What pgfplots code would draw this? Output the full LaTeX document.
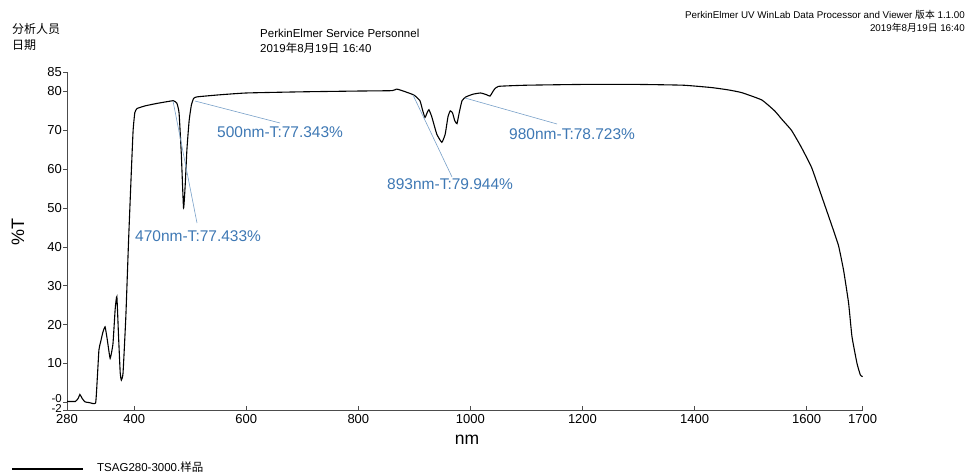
\documentclass[border=0pt]{standalone}
\usepackage{fontspec}
\setmainfont{Liberation Sans}
\newfontfamily\cjk{Noto Sans CJK SC}
\usepackage{pgfplots}
\pgfplotsset{compat=1.18}
\definecolor{annblue}{RGB}{62,120,180}
\definecolor{leadc}{RGB}{120,160,200}
\begin{document}
\begin{tikzpicture}
\useasboundingbox (0,0) rectangle (968pt,475pt);
\begin{axis}[
  at={(67pt,65pt)}, anchor=south west,
  width=795.6pt, height=338pt, scale only axis,
  xmin=280, xmax=1700, ymin=-2, ymax=85,
  axis lines=left, axis line style={-, draw=black!70, line width=0.6pt},
  xtick={280,400,600,800,1000,1200,1400,1600,1700},
  xticklabels={280,400,600,800,1000,1200,1400,1600,1700},
  ytick={-2,0,10,20,30,40,50,60,70,80,85},
  yticklabels={{\fontsize{11.5}{12}\selectfont\raisebox{-2.2pt}[0pt][0pt]{-2}},{\fontsize{11.5}{12}\selectfont\raisebox{0.2pt}[0pt][0pt]{-0}},10,20,30,40,50,60,70,80,85},
  xtick align=inside, ytick align=outside,
  major tick length=4pt,
  tick style={draw=black!70, line width=0.6pt},
  tick label style={font=\fontsize{13}{14}\selectfont},
  yticklabel style={inner sep=1pt},
  xticklabel style={yshift=-1pt},
  /pgf/number format/assume math mode=true,
  clip=false,
]
\addplot[black, line width=1.1pt, smooth, tension=0.25] coordinates {
(280,0.2) (295,0.2) (300,1.0) (303,2.0) (307,1.0) (312,0.1) (320,-0.1) (331,-0.2)
(334,6) (337,13.5) (340,15.5) (344,18) (348,19.4) (352,16) (357,11.3) (362,15)
(366,24) (369,27.2) (372,17) (375,7.5) (377,5.7) (380,7.5) (385,22) (390,42)
(395,60) (398,70) (401,74.5) (405,75.6) (420,76.3) (440,76.9) (460,77.4) (470,77.6)
(476,77.0) (480,74.5) (484,64) (488,50) (491,56) (494,65) (498,72.5) (502,76.5)
(506,78.2) (512,78.6) (550,79.1) (600,79.6) (700,79.9) (800,80.1) (860,80.2)
(868,80.6) (874,80.4) (890,79.6) (900,79.0) (910,77.6) (915,75) (919,73.3)
(923,74.6) (926,75.3) (931,73.5) (940,69) (949,66.9) (955,69) (960,73.5)
(964,75) (968,74.5) (972,72.5) (976,71.7) (980,74.5) (985,77.6) (992,78.6)
(1005,79.3) (1018,79.6) (1028,79.2) (1035,78.8) (1042,80.4) (1050,81.3)
(1100,81.6) (1200,81.8) (1300,81.8) (1380,81.6) (1430,81.0) (1460,80.4)
(1484,79.7) (1520,77.8) (1543,75.0) (1556,72.8) (1573,70.0) (1590,65.8)
(1609,60.4) (1627,53.0) (1645,45.5) (1657,40.3) (1666,34) (1675,25.5)
(1681,16.9) (1690,10) (1696,7) (1700,6.6)
};
\end{axis}
\begin{scope}[x=1pt,y=-1pt,yshift=475pt]
% header
\node[anchor=west, inner sep=0, font=\fontsize{12}{12}\selectfont\cjk] at (12,29) {分析人员};
\node[anchor=west, inner sep=0, font=\fontsize{12}{12}\selectfont\cjk] at (12,45) {日期};
\node[anchor=west, inner sep=0, font=\fontsize{11.5}{12}\selectfont] at (260,33) {PerkinElmer Service Personnel};
\node[anchor=west, inner sep=0, font=\fontsize{11.5}{12}\selectfont] at (260,48) {2019{\cjk 年}8{\cjk 月}19{\cjk 日} 16:40};
\node[anchor=east, inner sep=0, font=\fontsize{9.8}{10}\selectfont] at (965,15) {PerkinElmer UV WinLab Data Processor and Viewer {\cjk 版本} 1.1.00};
\node[anchor=east, inner sep=0, font=\fontsize{9.8}{10}\selectfont] at (965,28) {2019{\cjk 年}8{\cjk 月}19{\cjk 日} 16:40};
% axis labels
\node[rotate=90, inner sep=0, font=\fontsize{18}{18}\selectfont] at (18,232) {\%T};
\node[inner sep=0, font=\fontsize{17.5}{18}\selectfont] at (467,440) {nm};
% annotations
\draw[leadc, line width=0.6pt] (195,101) -- (280,123);
\draw[leadc, line width=0.6pt] (173,101) -- (197,223);
\draw[leadc, line width=0.6pt] (413,95) -- (452,177);
\draw[leadc, line width=0.6pt] (465,98) -- (557,124);
\node[anchor=west, inner sep=0, text=annblue, font=\fontsize{15.5}{16}\selectfont] at (217,132) {500nm-T:77.343\%};
\node[anchor=west, inner sep=0, text=annblue, font=\fontsize{15.5}{16}\selectfont] at (135,236) {470nm-T:77.433\%};
\node[anchor=west, inner sep=0, text=annblue, font=\fontsize{15.5}{16}\selectfont] at (387,184) {893nm-T:79.944\%};
\node[anchor=west, inner sep=0, text=annblue, font=\fontsize{15.5}{16}\selectfont] at (509,134) {980nm-T:78.723\%};
% legend
\draw[black, line width=1.1pt] (12,469) -- (83,469);
\node[anchor=west, inner sep=0, font=\fontsize{11.5}{12}\selectfont] at (97,467) {TSAG280-3000.{\cjk 样品}};
\end{scope}
\end{tikzpicture}
\end{document}
